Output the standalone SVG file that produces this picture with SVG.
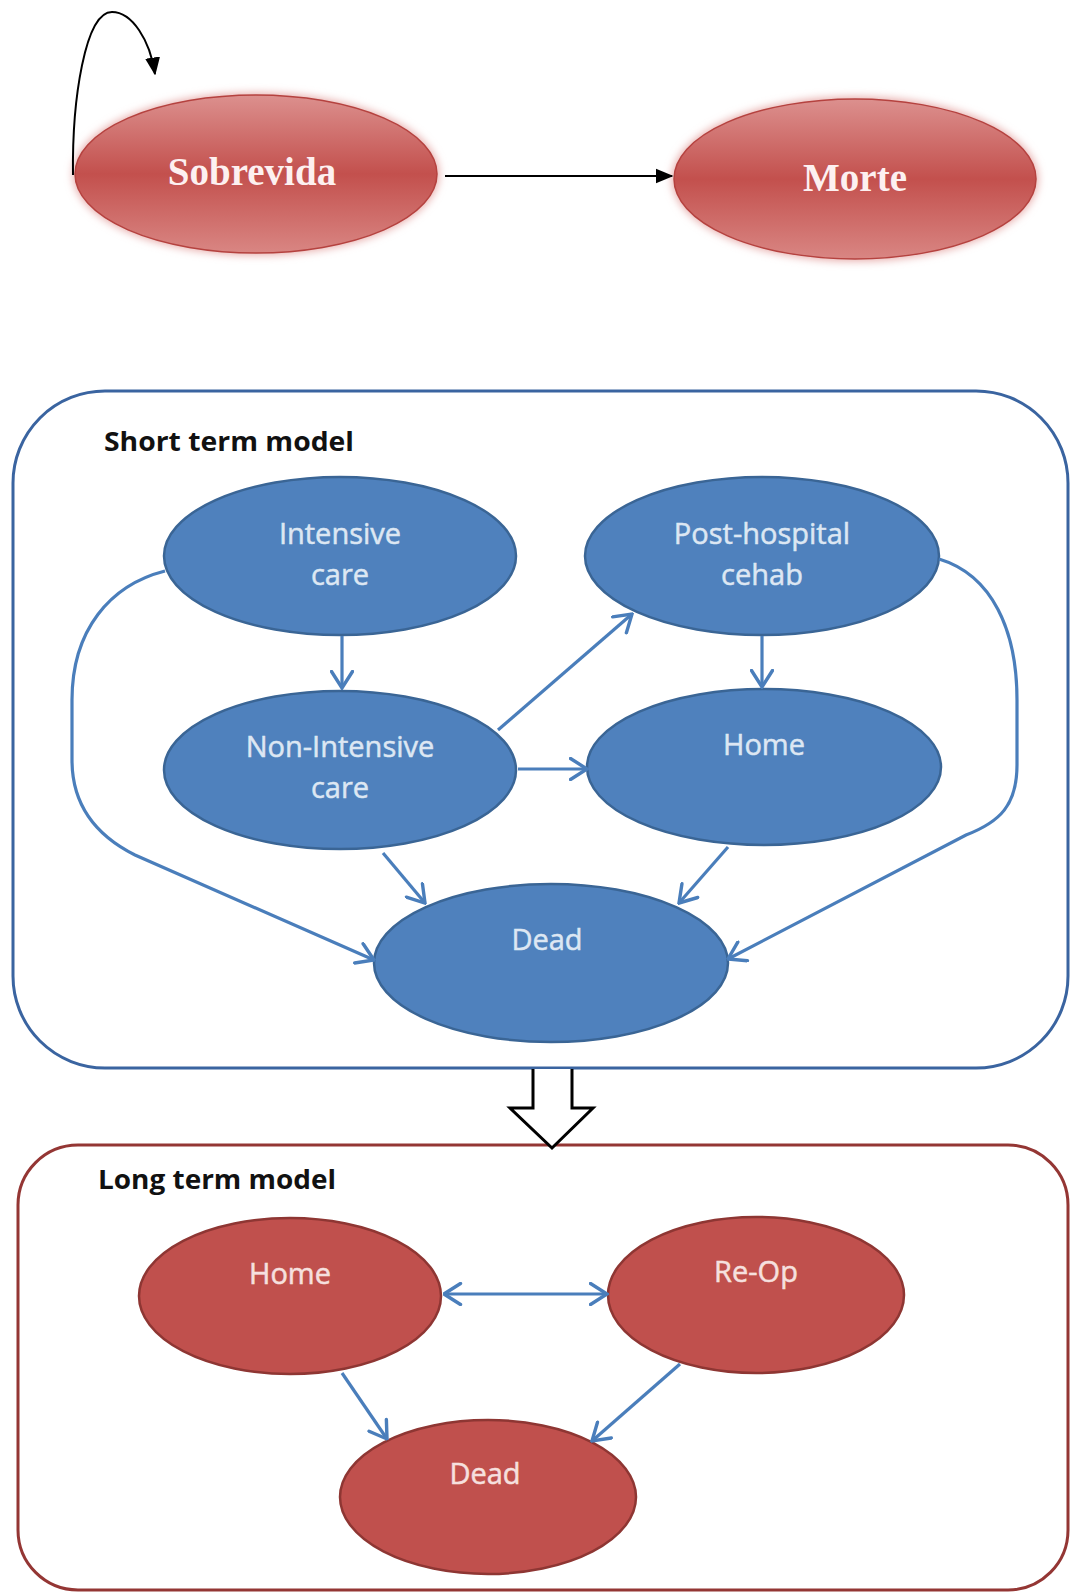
<svg xmlns="http://www.w3.org/2000/svg" width="1070" height="1593" viewBox="0 0 1070 1593">
<style>
.bg{fill:#ffffff}
.top-node{fill:url(#redGrad);stroke:#b5423f;stroke-width:1.5}
.top-label{font-family:"Liberation Serif","Times New Roman",serif;font-weight:bold;font-size:39px;fill:#fdf0f0;text-anchor:middle}
.bnode{fill:#4f81bd;stroke:#3a6595;stroke-width:2.5}
.rnode{fill:#c0504d;stroke:#8e3633;stroke-width:2.5}
.blabel{font-family:"Open Sans","DejaVu Sans",sans-serif;font-size:29px;fill:#dde7f3;stroke:#dde7f3;stroke-width:0.5;text-anchor:middle}
.rlabel{font-family:"Open Sans","DejaVu Sans",sans-serif;font-size:29px;fill:#f6e0df;stroke:#f6e0df;stroke-width:0.5;text-anchor:middle}
.title{font-family:"Open Sans","DejaVu Sans",sans-serif;font-weight:bold;font-size:27px;fill:#111111}
.blink{fill:none;stroke:#4a7ebb;stroke-width:3.2;marker-end:url(#openArrow)}
.klink{fill:none;stroke:#000000;stroke-width:2;marker-end:url(#blackArrow)}
</style>
<defs>
<linearGradient id="redGrad" x1="0" y1="0" x2="0" y2="1">
<stop offset="0" stop-color="#dc908e"/>
<stop offset="0.5" stop-color="#c3504d"/>
<stop offset="1" stop-color="#d98683"/>
</linearGradient>
<filter id="glow" x="-20%" y="-20%" width="140%" height="140%">
<feGaussianBlur stdDeviation="4"/>
</filter>
<marker id="openArrow" viewBox="0 0 20 24" refX="18.5" refY="12" markerWidth="20" markerHeight="24" markerUnits="userSpaceOnUse" orient="auto-start-reverse">
<path d="M2,1.5 L18.5,12 L2,22.5" fill="none" stroke="#4a7ebb" stroke-width="3.4" stroke-linejoin="miter" stroke-linecap="round"/>
</marker>
<marker id="blackArrow" viewBox="0 0 12 12" refX="11" refY="6" markerWidth="18" markerHeight="18" markerUnits="userSpaceOnUse" orient="auto">
<path d="M0,1 L12,6 L0,11 Z" fill="#000000"/>
</marker>
</defs>
<rect class="bg" x="0" y="0" width="1070" height="1593"/>

<!-- containers -->
<g id="short-term-box">
<rect x="13" y="391" width="1055" height="677" rx="92" ry="92" fill="none" stroke="#3a64a0" stroke-width="3"/>
<text class="title" x="104" y="451" textLength="250" lengthAdjust="spacingAndGlyphs">Short term model</text>
</g>
<g id="long-term-box">
<rect x="18" y="1145" width="1050" height="445" rx="60" ry="60" fill="none" stroke="#943634" stroke-width="3"/>
<text class="title" x="98" y="1189" textLength="238" lengthAdjust="spacingAndGlyphs">Long term model</text>
</g>

<!-- top nodes -->
<g id="node-sobrevida">
<ellipse cx="256" cy="174" rx="183" ry="81" fill="#e6a9a7" filter="url(#glow)"/>
<ellipse class="top-node" cx="256" cy="174" rx="181" ry="79"/>
<text class="top-label" x="252" y="185">Sobrevida</text>
</g>
<g id="node-morte">
<ellipse cx="855" cy="179" rx="183" ry="82" fill="#e6a9a7" filter="url(#glow)"/>
<ellipse class="top-node" cx="855" cy="179" rx="181" ry="80"/>
<text class="top-label" x="855" y="191">Morte</text>
</g>

<!-- short term nodes -->
<g id="node-intensive">
<ellipse class="bnode" cx="340" cy="556" rx="176" ry="79"/>
<text class="blabel" x="340" y="544">Intensive</text>
<text class="blabel" x="340" y="585">care</text>
</g>
<g id="node-posthospital">
<ellipse class="bnode" cx="762" cy="556" rx="177" ry="79"/>
<text class="blabel" x="762" y="544">Post-hospital</text>
<text class="blabel" x="762" y="585">cehab</text>
</g>
<g id="node-nonintensive">
<ellipse class="bnode" cx="340" cy="770" rx="176" ry="79"/>
<text class="blabel" x="340" y="757">Non-Intensive</text>
<text class="blabel" x="340" y="798">care</text>
</g>
<g id="node-home-short">
<ellipse class="bnode" cx="764" cy="767" rx="177" ry="78"/>
<text class="blabel" x="764" y="755">Home</text>
</g>
<g id="node-dead-short">
<ellipse class="bnode" cx="551" cy="963" rx="177" ry="79"/>
<text class="blabel" x="547" y="950">Dead</text>
</g>

<!-- long term nodes -->
<g id="node-home-long">
<ellipse class="rnode" cx="290" cy="1296" rx="151" ry="78"/>
<text class="rlabel" x="290" y="1284">Home</text>
</g>
<g id="node-reop">
<ellipse class="rnode" cx="756" cy="1295" rx="148" ry="78"/>
<text class="rlabel" x="756" y="1282">Re-Op</text>
</g>
<g id="node-dead-long">
<ellipse class="rnode" cx="488" cy="1497" rx="148" ry="77"/>
<text class="rlabel" x="485" y="1484">Dead</text>
</g>

<!-- connectors -->
<g id="connectors">
<path class="klink" d="M73,175 C72,100 85,12 112,12 C132,12 150,40 155,74"/>
<path class="klink" d="M445,176 L672,176"/>

<path class="blink" d="M342,636 L342,688"/>
<path class="blink" d="M762,636 L762,687"/>
<path class="blink" d="M498,730 L632,614"/>
<path class="blink" d="M518,769 L587,769"/>
<path class="blink" d="M383,853 L425,903"/>
<path class="blink" d="M728,847 L679,903"/>
<path class="blink" d="M165,571 C110,585 72,630 72,700 L72,760 C72,805 95,835 135,855 L374,960"/>
<path class="blink" d="M939,559 C992,575 1017,630 1017,700 L1017,765 C1017,805 1000,822 966,835 L728,959"/>

<path class="blink" d="M444,1294 L607,1294" marker-start="url(#openArrow)"/>
<path class="blink" d="M342,1373 L387,1439"/>
<path class="blink" d="M680,1364 L592,1441"/>

<path d="M533,1069 L533,1108 L510,1108 L552,1148 L593,1108 L572,1108 L572,1069" fill="#ffffff" stroke="#000000" stroke-width="3" stroke-linejoin="miter"/>
</g>
</svg>
